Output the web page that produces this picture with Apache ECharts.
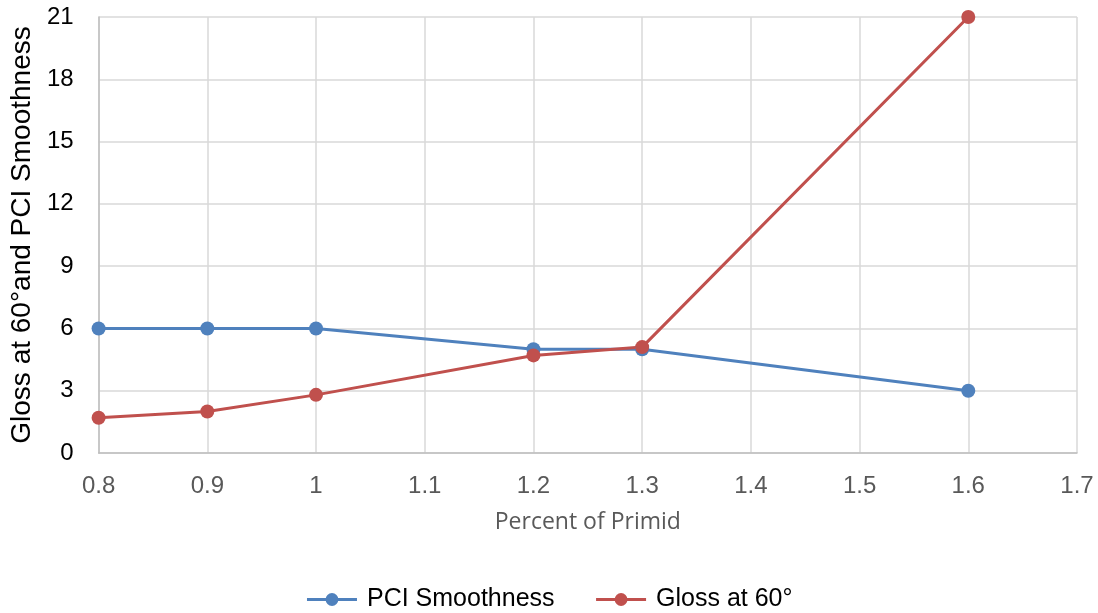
<!DOCTYPE html>
<html><head><meta charset="utf-8">
<script src="https://cdn.jsdelivr.net/npm/echarts@6/dist/echarts.min.js"></script>
<style>html,body{margin:0;padding:0;background:#fff}#c{width:1098px;height:613px}</style>
</head><body><div id="c"></div>
<script>
const xPercent = [0.8, 0.9, 1.0, 1.2, 1.3, 1.6];
const pciSmoothness = [6, 6, 6, 5, 5, 3];
const gloss60 = [1.7, 2.0, 2.8, 4.7, 5.1, 21];
const seriesNames = ['PCI Smoothness', 'Gloss at 60°'];

const chart = echarts.init(document.getElementById('c'));
const font = 'Liberation Sans, Arial, sans-serif';
function pairs(xs, ys){ return xs.map((x,i)=>[x, ys[i]]); }
chart.setOption({
  animation: false,
  grid: {left: 97, right: 21, top: 17, bottom: 160, containLabel: false},
  legend: {
    top: 582, left: 'center', itemGap: 40, itemWidth: 50, itemHeight: 16,
    lineStyle: {width: 3},
    textStyle: {fontFamily: font, fontSize: 25, color: '#000', padding: [0, 0, 0, 5]},
    data: seriesNames
  },
  xAxis: {
    type: 'value', min: 0.8, max: 1.7, interval: 0.1,
    name: 'Percent of Primid', nameLocation: 'middle', nameGap: 58,
    nameTextStyle: {fontFamily: 'Open Sans, Noto Sans, sans-serif', fontSize: 23, color: '#595959'},
    axisLine: {show: true, lineStyle: {color: '#BFBFBF', width: 1.5}},
    axisTick: {show: false},
    splitLine: {show: true, lineStyle: {color: '#D9D9D9', width: 1.5}},
    axisLabel: {fontFamily: font, fontSize: 24, color: '#595959', margin: 21,
      formatter: v => String(Math.round(v*10)/10)}
  },
  yAxis: {
    type: 'value', min: 0, max: 21, interval: 3,
    name: 'Gloss at 60°and PCI Smoothness', nameLocation: 'middle', nameGap: 55,
    nameTextStyle: {fontFamily: font, fontSize: 28, color: '#000'},
    axisLine: {show: true, lineStyle: {color: '#BFBFBF', width: 1.5}},
    axisTick: {show: false},
    splitLine: {show: true, lineStyle: {color: '#D9D9D9', width: 1.5}},
    axisLabel: {fontFamily: font, fontSize: 24, color: '#000', margin: 25}
  },
  series: [
    {name: seriesNames[0], type: 'line', data: pairs(xPercent, pciSmoothness),
     symbol: 'circle', symbolSize: 14, color: '#4F81BD', lineStyle: {width: 3}},
    {name: seriesNames[1], type: 'line', data: pairs(xPercent, gloss60),
     symbol: 'circle', symbolSize: 14, color: '#C0504D', lineStyle: {width: 3}}
  ]
});
</script></body></html>
